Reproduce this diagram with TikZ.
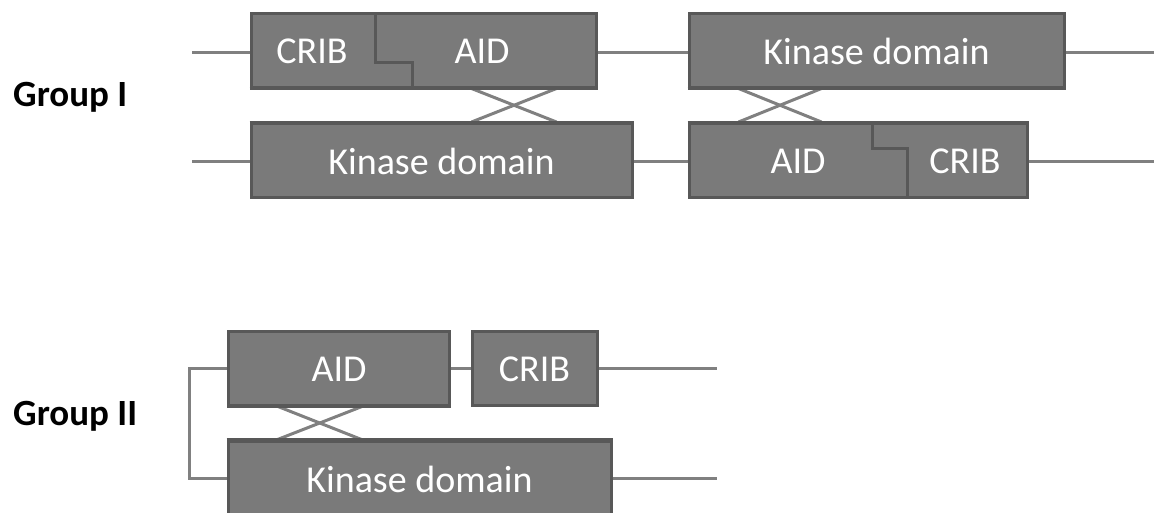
\documentclass[tikz,border=0pt]{standalone}
\usepackage{fontspec}
\setmainfont{Carlito}
\usetikzlibrary{calc}
\definecolor{boxfill}{RGB}{122,122,122}
\definecolor{boxdraw}{RGB}{88,88,88}
\definecolor{linegray}{RGB}{128,128,128}
\begin{document}
\begin{tikzpicture}[x=1pt,y=-1pt,
  dombox/.style={draw=boxdraw, fill=boxfill, line width=3pt, inner sep=0pt, minimum height=74pt},
  domtext/.style={text=white, font=\fontsize{38}{44}\selectfont, inner sep=0pt},
  grouplabel/.style={font=\fontsize{37}{42}\selectfont\bfseries, anchor=base west, inner sep=0pt},
  link/.style={draw=linegray, line width=3pt},
  step line/.style={draw=boxdraw, line width=3pt}]
\useasboundingbox (0,0) rectangle (1154,512);

% ---------- Group I ----------
\node[grouplabel] (g1) at (13,106) {Group I};

% top row
\node[dombox, minimum width=345pt] (b1) at (423.5,50) {};
\draw[step line] (375,13) -- (375,62) -- (412,62) -- (412,87);
\node[domtext] (crib1) at (312,51) {CRIB};
\node[domtext] (aid1) at (482,51) {AID};

\node[dombox, minimum width=375pt] (kin2) at (876.5,50) {};
\node[domtext] (kin2t) at (876.5,51) {Kinase domain};

% bottom row
\node[dombox, minimum width=381pt] (kin1) at (441.5,160.5) {};
\node[domtext] (kin1t) at (441.5,161.5) {Kinase domain};

\node[dombox, minimum width=338pt] (b2) at (858,160.5) {};
\draw[step line] (872,123) -- (872,148) -- (907,148) -- (907,198);
\node[domtext] (aid2t) at (798,161.5) {AID};
\node[domtext] (crib2t) at (965,161.5) {CRIB};

% connectors, row lines
\coordinate (l1) at (192,52);
\coordinate (r1) at (1154,52);
\coordinate (l2) at (192,161);
\coordinate (r2) at (1154,161);
\draw[link] (l1) -- (l1 -| b1.west);
\draw[link] (l1 -| b1.east) -- (l1 -| kin2.west);
\draw[link] (l1 -| kin2.east) -- (r1);
\draw[link] (l2) -- (l2 -| kin1.west);
\draw[link] (l2 -| kin1.east) -- (l2 -| b2.west);
\draw[link] (l2 -| b2.east) -- (r2);

% crosses
\draw[link] ([xshift=222pt]b1.south west) -- ([xshift=307pt]kin1.north west);
\draw[link] ([xshift=307pt]b1.south west) -- ([xshift=222pt]kin1.north west);
\draw[link] ([xshift=51pt]kin2.south west) -- ([xshift=134pt]b2.north west);
\draw[link] ([xshift=134pt]kin2.south west) -- ([xshift=51pt]b2.north west);

% redraw box borders over cross ends
\draw[boxdraw, line width=3pt] (b1.south west) -- (b1.south east);
\draw[boxdraw, line width=3pt] (kin1.north west) -- (kin1.north east);
\draw[boxdraw, line width=3pt] (kin2.south west) -- (kin2.south east);
\draw[boxdraw, line width=3pt] (b2.north west) -- (b2.north east);

% ---------- Group II ----------
\node[grouplabel] (g2) at (13,425) {Group II};

\node[dombox, minimum width=221pt] (aid3) at (339,368) {};
\node[domtext] at ([yshift=-1pt]aid3.center) {AID};
\node[dombox, minimum width=125pt] (crib3) at (534.5,368) {};
\node[domtext] at ([yshift=-1pt]crib3.center) {CRIB};
\node[dombox, minimum width=383pt] (kin3) at (419.5,478) {};
\node[domtext] at ([yshift=-1pt]kin3.center) {Kinase domain};

\coordinate (r3) at (717,368);
\coordinate (r4) at (717,478);
\draw[link] (aid3.east) -- (crib3.west);
\draw[link] (crib3.east) -- (r3);
\draw[link] (kin3.east) -- (r4);
\draw[link] (aid3.west) -- ++(-38pt,0) |- (kin3.west);

\draw[link] ([xshift=51pt]aid3.south west) -- ([xshift=135pt]kin3.north west);
\draw[link] ([xshift=135pt]aid3.south west) -- ([xshift=51pt]kin3.north west);
\draw[boxdraw, line width=3pt] (aid3.south west) -- (aid3.south east);
\draw[boxdraw, line width=3pt] (kin3.north west) -- (kin3.north east);
\end{tikzpicture}
\end{document}
